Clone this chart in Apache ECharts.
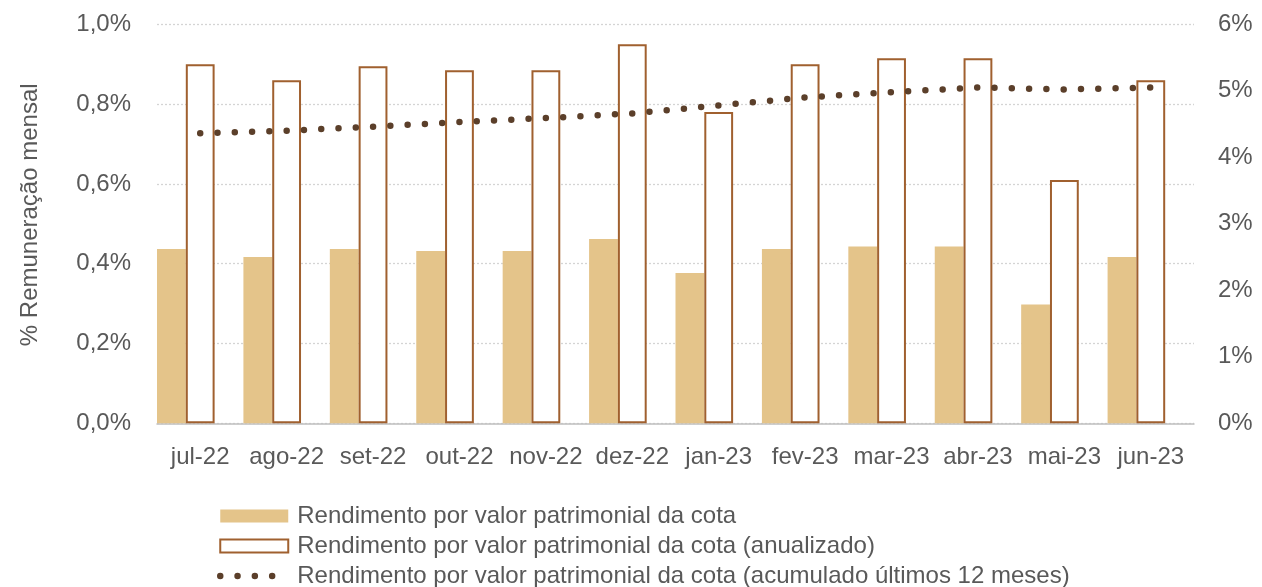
<!DOCTYPE html>
<html>
<head>
<meta charset="utf-8">
<script src="https://cdn.jsdelivr.net/npm/echarts@6/dist/echarts.min.js"></script>
<style>
  html, body { margin: 0; padding: 0; background: #fff; }
  #main { width: 1262px; height: 587px; }
</style>
</head>
<body>
<div id="main"></div>
<script>
// meses
var categorias = ['jul-22', 'ago-22', 'set-22', 'out-22', 'nov-22', 'dez-22', 'jan-23', 'fev-23', 'mar-23', 'abr-23', 'mai-23', 'jun-23'];
// rendimento mensal (eixo esquerdo, %)
var rendMensal = [0.437, 0.417, 0.437, 0.432, 0.432, 0.462, 0.377, 0.437, 0.443, 0.443, 0.298, 0.417];
// rendimento anualizado (eixo direito, %)
var rendAnual = [5.40, 5.16, 5.37, 5.31, 5.31, 5.70, 4.68, 5.40, 5.49, 5.49, 3.66, 5.16];
// acumulado 12 meses (eixo direito, %)
var rendAcum = [4.36, 4.40, 4.46, 4.53, 4.59, 4.66, 4.78, 4.90, 4.98, 5.05, 5.02, 5.05];
// espaço vazio à direita (como no excel)
var espaco = [];

var nomes = [
  'Rendimento por valor patrimonial da cota',
  'Rendimento por valor patrimonial da cota (anualizado)',
  'Rendimento por valor patrimonial da cota (acumulado últimos 12 meses)'
];

var fonte = 'Liberation Sans, Arial, sans-serif';
var cinza = '#595959';

var chart = echarts.init(document.getElementById('main'));

var option = {
  animation: false,
  grid: { left: 157, right: 68, top: 24.3, bottom: 163.7 },
  legend: {
    orient: 'vertical',
    left: 217,
    top: 504,
    height: 120,
    padding: 0,
    itemWidth: 68,
    itemHeight: 13,
    itemGap: 6,
    textStyle: { fontFamily: fonte, fontSize: 24, color: cinza, padding: [0, 0, 0, 4] },
    data: [
      { name: nomes[0], icon: 'rect' },
      { name: nomes[1], icon: 'rect', itemStyle: { borderWidth: 2 } },
      { name: nomes[2], lineStyle: { width: 6.5 }, itemStyle: { opacity: 0 } }
    ]
  },
  xAxis: {
    type: 'category',
    data: categorias,
    axisLine: { lineStyle: { color: '#bfbfbf', width: 1.5 } },
    axisTick: { show: false },
    axisLabel: { fontFamily: fonte, fontSize: 24, color: cinza, margin: 22, interval: 0 }
  },
  yAxis: [
    {
      type: 'value',
      min: 0, max: 1, interval: 0.2,
      name: '% Remuneração mensal',
      nameLocation: 'middle',
      nameGap: 115,
      nameTextStyle: { fontFamily: fonte, fontSize: 24, color: cinza, padding: [0, 0, 0, 18] },
      axisLine: { show: false },
      axisTick: { show: false },
      axisLabel: {
        fontFamily: fonte, fontSize: 24, color: cinza, margin: 26,
        formatter: function (v) { return v.toFixed(1).replace('.', ',') + '%'; }
      },
      splitLine: { lineStyle: { color: '#d4d4d4', type: [2, 2], width: 1.3 } }
    },
    {
      type: 'value',
      min: 0, max: 6, interval: 1,
      position: 'right',
      axisLine: { show: false },
      axisTick: { show: false },
      splitLine: { show: false },
      axisLabel: {
        fontFamily: fonte, fontSize: 24, color: cinza, margin: 24,
        formatter: function (v) { return v + '%'; }
      }
    }
  ],
  series: [
    {
      name: nomes[0],
      type: 'bar',
      yAxisIndex: 0,
      data: rendMensal,
      barGap: 0,
      barCategoryGap: 0,
      itemStyle: { color: '#e4c48a' }
    },
    {
      name: nomes[1],
      type: 'bar',
      yAxisIndex: 1,
      data: rendAnual,
      itemStyle: { color: '#ffffff', borderColor: '#a0602f', borderWidth: 2 }
    },
    {
      name: 'espaco',
      type: 'bar',
      yAxisIndex: 1,
      data: espaco
    },
    {
      name: nomes[2],
      type: 'line',
      yAxisIndex: 1,
      data: rendAcum,
      symbol: 'none',
      z: 5,
      itemStyle: { color: '#5b3f2a' },
      lineStyle: { color: '#5b3f2a', width: 6.5, type: [0, 17.3], cap: 'round' }
    }
  ]
};

chart.setOption(option);
</script>
</body>
</html>
